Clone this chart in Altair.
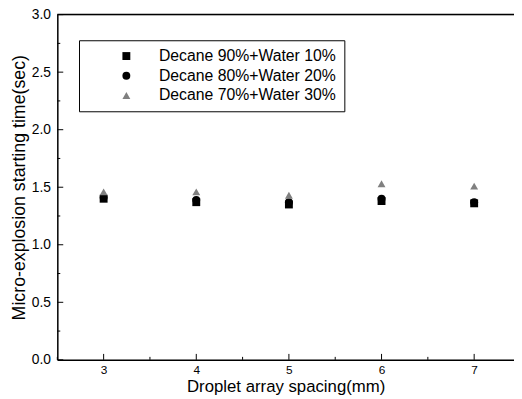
import altair as alt
import pandas as pd

spacing = [3, 4, 5, 6, 7]
d90 = [1.40, 1.37, 1.35, 1.38, 1.36]
d80 = [1.41, 1.39, 1.37, 1.40, 1.37]
d70 = [1.46, 1.46, 1.43, 1.53, 1.51]
series = ["Decane 90%+Water 10%", "Decane 80%+Water 20%", "Decane 70%+Water 30%"]

y_major = [0.0, 0.5, 1.0, 1.5, 2.0, 2.5, 3.0]
y_minor = [0.25, 0.75, 1.25, 1.75, 2.25, 2.75]
x_major = [3, 4, 5, 6, 7]
x_minor = [2.5, 3.5, 4.5, 5.5, 6.5]

rows = []
for name, vals in zip(series, [d90, d80, d70]):
    for s, v in zip(spacing, vals):
        rows.append({"spacing": s, "time": v, "series": name})
df = pd.DataFrame(rows)

W, H = 463, 350
FONT = "Liberation Sans"

xscale = alt.Scale(domain=[2.5, 7.43], nice=False, zero=False)
yscale = alt.Scale(domain=[0, 3.0], nice=False)

leg = alt.Legend(title=None, orient="none", legendX=22, legendY=26,
                 strokeColor="black", padding=8, symbolOffset=32,
                 labelOffset=25, labelFontSize=16, labelFont=FONT,
                 labelColor="black", rowPadding=4, symbolSize=64,
                 labelLimit=400)

points = alt.Chart(df).mark_point(filled=True, size=64, opacity=1).encode(
    x=alt.X("spacing:Q", scale=xscale,
            axis=alt.Axis(title="Droplet array spacing(mm)", values=x_major, format="d",
                          ticks=False, grid=False, domainColor="black", domainWidth=1.5,
                          labelFontSize=12, labelPadding=5, titleFontSize=17,
                          titlePadding=3, titleFontWeight="normal", labelFont=FONT,
                          titleFont=FONT, labelColor="black", titleColor="black")),
    y=alt.Y("time:Q", scale=yscale,
            axis=alt.Axis(title="Micro-explosion starting time(sec)", values=y_major,
                          format=".1f", ticks=False, grid=False, domainColor="black",
                          domainWidth=1.5, labelFontSize=14, labelPadding=7,
                          titleFontSize=18, titlePadding=3, titleFontWeight="normal",
                          labelFont=FONT, titleFont=FONT, labelColor="black",
                          titleColor="black")),
    shape=alt.Shape("series:N", sort=series,
                    scale=alt.Scale(domain=series, range=["square", "circle", "triangle-up"]),
                    legend=leg),
    color=alt.Color("series:N", sort=series,
                    scale=alt.Scale(domain=series, range=["black", "black", "#808080"]),
                    legend=leg),
)

ymaj = pd.DataFrame({"v": y_major})
ymin = pd.DataFrame({"v": y_minor})
xmaj = pd.DataFrame({"v": x_major})
xmin = pd.DataFrame({"v": x_minor})

ytick_major = alt.Chart(ymaj).mark_rule(color="black", strokeWidth=1).encode(
    y=alt.Y("v:Q", scale=yscale), x=alt.value(0), x2=alt.value(6))
ytick_minor = alt.Chart(ymin).mark_rule(color="black", strokeWidth=1).encode(
    y=alt.Y("v:Q", scale=yscale), x=alt.value(0), x2=alt.value(3))
xtick_major = alt.Chart(xmaj).mark_rule(color="black", strokeWidth=1).encode(
    x=alt.X("v:Q", scale=xscale), y=alt.value(H), y2=alt.value(H - 6))
xtick_minor = alt.Chart(xmin).mark_rule(color="black", strokeWidth=1).encode(
    x=alt.X("v:Q", scale=xscale), y=alt.value(H), y2=alt.value(H - 3))
top_border = alt.Chart(pd.DataFrame({"v": [3.0]})).mark_rule(color="black", strokeWidth=1.5).encode(
    y=alt.Y("v:Q", scale=yscale), x=alt.value(0), x2=alt.value(W))

chart = alt.layer(ytick_major, ytick_minor, xtick_major, xtick_minor, top_border, points).properties(
    width=W, height=H,
    autosize=alt.AutoSizeParams(type="none"),
    padding={"left": 50, "top": 4, "right": 0, "bottom": 37},
).configure_view(stroke=None).configure(background="white")

chart.save("out.html", embed_options={"renderer": "svg", "actions": False})
